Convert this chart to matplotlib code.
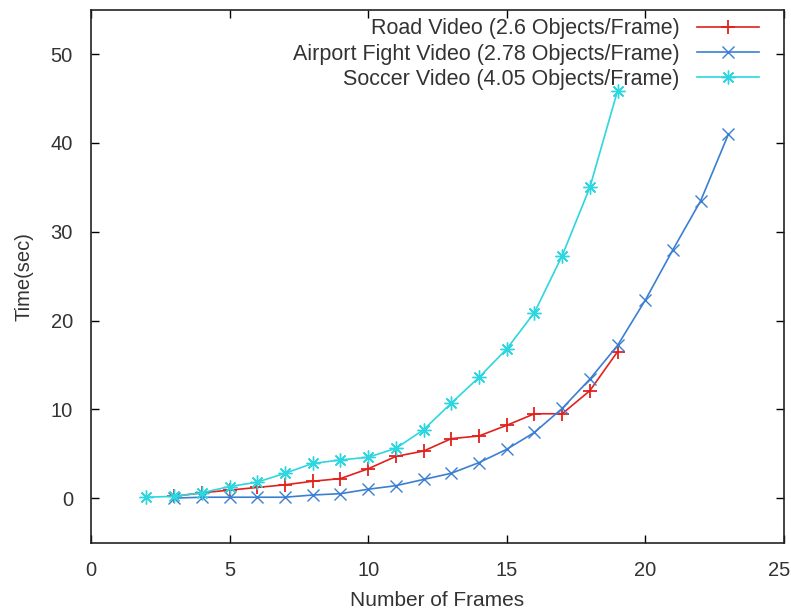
import matplotlib
matplotlib.use("Agg")
import matplotlib.pyplot as plt
from matplotlib.transforms import ScaledTranslation

plt.rcParams['font.family'] = ['Liberation Sans', 'DejaVu Sans']

# values
road_x = [3, 4, 5, 6, 7, 8, 9, 10, 11, 12, 13, 14, 15, 16, 17, 18, 19]
road_y = [0.2, 0.6, 0.9, 1.2, 1.5, 1.9, 2.2, 3.3, 4.7, 5.3, 6.7, 7.0, 8.2, 9.5, 9.5, 12.1, 16.5]

airport_x = [3, 4, 5, 6, 7, 8, 9, 10, 11, 12, 13, 14, 15, 16, 17, 18, 19, 20, 21, 22, 23]
airport_y = [0.0, 0.1, 0.1, 0.1, 0.1, 0.35, 0.5, 1.0, 1.4, 2.1, 2.8, 4.0, 5.5, 7.4, 10.1,
             13.4, 17.2, 22.3, 28.0, 33.5, 41.0]

soccer_x = [2, 3, 4, 5, 6, 7, 8, 9, 10, 11, 12, 13, 14, 15, 16, 17, 18, 19]
soccer_y = [0.1, 0.2, 0.6, 1.3, 1.8, 2.8, 3.9, 4.3, 4.6, 5.6, 7.7, 10.7, 13.6, 16.8, 20.9,
            27.3, 35.0, 45.9]

labels = ["Road Video (2.6 Objects/Frame)",
          "Airport Fight Video (2.78 Objects/Frame)",
          "Soccer Video (4.05 Objects/Frame)"]

txt = '#333333'

fig = plt.figure(figsize=(7.91, 6.13), dpi=100)
ax = fig.add_axes([0.115, 0.115, 0.876, 0.869])

ax.plot(road_x, road_y, color='#e2211c', lw=1.2, marker='+', ms=10, mew=1.3, label=labels[0])
ax.plot(airport_x, airport_y, color='#3a7fd2', lw=1.2, marker='x', ms=8, mew=1.0, label=labels[1])
ax.plot(soccer_x, soccer_y, color='#2ed6df', lw=1.2, marker=(8, 2, 0), ms=10, mew=1.0, label=labels[2])

ax.set_xlim(0, 25)
ax.set_ylim(-5, 55)
ax.set_xticks([0, 5, 10, 15, 20, 25])
ax.set_yticks([0, 10, 20, 30, 40, 50])
ax.tick_params(direction='in', top=True, right=True, length=6, width=1,
               labelsize=14.5, labelcolor=txt, pad=13)
for s in ax.spines.values():
    s.set_linewidth(1.2)
    s.set_color('#222222')

# last x tick label sits right on the figure edge, nudge it in a little
last = ax.get_xticklabels()[-1]
last.set_transform(last.get_transform() + ScaledTranslation(-5 / 100, 0, fig.dpi_scale_trans))

ax.set_xlabel("Number of Frames", fontsize=15, color=txt, labelpad=8)
ax.set_ylabel("Time(sec)", fontsize=14.5, color=txt, labelpad=12)

leg = ax.legend(loc='upper right', bbox_to_anchor=(0.977, 1.0), frameon=False,
                markerfirst=False, fontsize=15.5,
                handlelength=2.9, labelspacing=0.2, borderaxespad=0.1,
                handletextpad=0.8, borderpad=0.3)
for t in leg.get_texts():
    t.set_color(txt)

fig.savefig("out.png", dpi=100)
